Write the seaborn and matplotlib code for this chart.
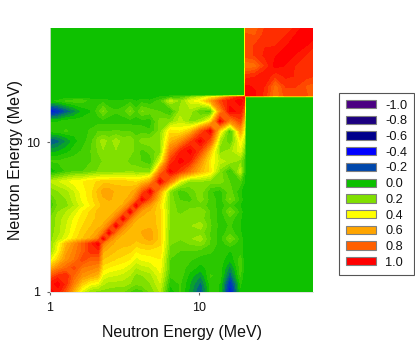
import numpy as np
import matplotlib
matplotlib.use("Agg")
import matplotlib.pyplot as plt
from matplotlib.patches import Patch
import seaborn as sns

sns.set_style("white")
plt.rcParams['font.family'] = ['Liberation Sans', 'DejaVu Sans']
plt.rcParams['text.color'] = '#111111'
plt.rcParams['axes.labelcolor'] = '#111111'
plt.rcParams['xtick.labelcolor'] = '#111111'
plt.rcParams['ytick.labelcolor'] = '#111111'

energy_low = [1.00, 1.13, 1.28, 1.45, 1.64, 1.86, 2.10, 2.27, 2.49, 2.77, 3.09, 3.44, 3.78,
              4.14, 4.69, 5.47, 6.39, 7.46, 8.71, 10.2, 11.9, 13.8, 16.1, 18.9, 20.0]
energy_high = [20.6, 23.7, 27.7, 32.4, 37.9, 44.3, 51.8, 58.0]

# lower triangle of the 1-20 MeV correlation block
low_rows = [
    [1.0],
    [.95, 1.0],
    [.8, .9, .92],
    [.55, .68, .76, .85],
    [.35, .5, .65, .72, .85],
    [.22, .4, .6, .7, .78, .9],
    [.2, .36, .55, .66, .78, .9, 1.0],
    [.2, .28, .36, .45, .52, .58, .7, 1.0],
    [.2, .25, .33, .42, .5, .55, .6, .72, 1.0],
    [.18, .25, .32, .4, .47, .52, .56, .58, .72, 1.0],
    [.18, .25, .3, .38, .45, .5, .54, .56, .58, .72, 1.0],
    [.12, .22, .27, .33, .42, .48, .54, .56, .56, .58, .72, 1.0],
    [.08, .18, .2, .27, .35, .42, .5, .54, .54, .56, .58, .74, 1.0],
    [.1, .2, .22, .3, .38, .45, .52, .56, .58, .56, .56, .6, .76, 1.0],
    [.18, .22, .25, .32, .4, .45, .54, .6, .6, .56, .55, .56, .62, .8, 1.0],
    [.28, .32, .36, .4, .42, .46, .48, .5, .5, .5, .5, .48, .46, .5, .6, 1.0],
    [-.02, .03, .08, .12, .12, .15, .18, .18, .18, .2, .2, .22, .2, .2, .2, .7, 1.0],
    [.08, .08, .1, .1, .1, .12, .15, .18, .18, .18, .2, .15, .15, .12, .08, .35, .88, 1.0],
    [-.05, -.03, 0, .05, .08, .12, .18, .22, .2, .22, .2, .2, .15, .1, .15, .2, .72, .92, 1.0],
    [-.2, -.15, -.08, 0, .05, .1, .2, .25, .2, .25, .2, .22, .15, .2, .2, .22, .55, .65, .85, 1.0],
    [.05, .05, .08, .05, .05, .08, .12, .12, .12, .13, .12, .12, .1, .1, .08, .2, .45, .42, .52, .8, 1.0],
    [.02, .02, .05, .05, .05, .05, .05, .05, .05, .05, .05, .05, .05, .05, .05, .2, .2, .3, .2, .25, .45, 1.0],
    [-.35, -.28, -.18, -.1, -.02, .02, .1, .18, .1, .08, .1, .18, .1, .18, .15, .12, .05, .25, .25, .12, .08, .65, 1.0],
    [.02, .03, .08, .1, .1, .05, .05, .05, .03, .03, .03, .05, .02, .05, .03, .1, .3, .2, .35, .42, .6, .85, .95, 1.0],
    [0, 0, 0, 0, 0, 0, 0, 0, 0, 0, 0, 0, 0, 0, 0, .03, .08, .1, .2, .3, .42, .55, .8, .95, 1.0],
]
# lower triangle of the 20-58 MeV correlation block
high_rows = [
    [1.0],
    [.98, .97],
    [.9, .92, .97],
    [.72, .74, .88, 1.0],
    [.85, .88, .94, .97, 1.0],
    [.84, .88, .92, .92, .97, 1.0],
    [.84, .82, .9, .9, .92, .98, 1.0],
    [.78, .8, .88, .88, .88, .94, 1.0, 1.0],
]
legend_values = [-1.0, -0.8, -0.6, -0.4, -0.2, 0.0, 0.2, 0.4, 0.6, 0.8, 1.0]
legend_colors = ["#4b0082", "#1c0080", "#00008b", "#0000ff", "#0047ab", "#0cc000",
                 "#80e000", "#ffff00", "#ffa500", "#ff5f00", "#ff0000"]
tick_values = [1, 10]
axis_label = "Neutron Energy (MeV)"

energy = np.array(energy_low + energy_high)
n_low, n = len(energy_low), len(energy)
matrix = np.zeros((n, n))
for i, row in enumerate(low_rows):
    matrix[i, :i + 1] = row
for i, row in enumerate(high_rows):
    matrix[n_low + i, n_low:n_low + i + 1] = row
matrix = matrix + matrix.T - np.diag(np.diag(matrix))

cmap = sns.blend_palette(legend_colors, n_colors=256, as_cmap=True)

fig = plt.figure(figsize=(4.15, 3.44), dpi=100)
ax = fig.add_axes([50 / 415, 52 / 344, 263 / 415, 264 / 344])
ax.contourf(energy, energy, matrix, levels=np.arange(-1.025, 1.05, 0.05), cmap=cmap, vmin=-1, vmax=1)
ax.set_xscale("log")
ax.set_yscale("log")
ax.set_xlim(1, 58)
ax.set_ylim(1, 58)
ax.set_xticks(tick_values)
ax.set_yticks(tick_values)
ax.set_xticklabels([str(t) for t in tick_values])
ax.set_yticklabels([str(t) for t in tick_values])
ax.minorticks_off()
ax.tick_params(axis="both", length=2.5, width=0.8, color="#666666", labelsize=9, bottom=True, left=True, pad=4.5)
for side in ("top", "right"):
    ax.spines[side].set_visible(False)
for side in ("bottom", "left"):
    ax.spines[side].set_color("#dddddd")
    ax.spines[side].set_linewidth(0.6)
ax.set_xlabel(axis_label, fontsize=11.5, labelpad=8)
ax.set_ylabel(axis_label, fontsize=11.5, labelpad=2.5)

handles = [Patch(facecolor=c, edgecolor="#808080", linewidth=0.8, label=f"{v:.1f}")
           for v, c in zip(legend_values, legend_colors)]
leg = ax.legend(handles=handles, loc="upper left", bbox_to_anchor=(339 / 415, 1 - 93 / 344),
                bbox_transform=fig.transFigure, frameon=True, fancybox=False, edgecolor="#555555",
                framealpha=1, fontsize=9.2, handlelength=2.35, handleheight=0.62, labelspacing=0.29,
                handletextpad=0.75, borderpad=0.52, borderaxespad=0)
leg.get_frame().set_linewidth(0.8)

fig.savefig("out.png", dpi=100)
